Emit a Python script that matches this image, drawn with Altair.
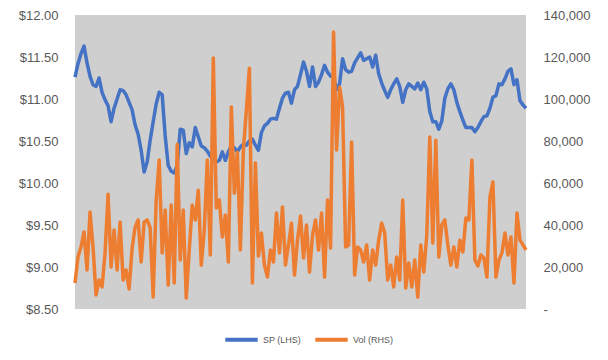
import altair as alt
import pandas as pd

sp_values = [
    11.26, 11.42, 11.54, 11.63, 11.43, 11.27, 11.17, 11.15, 11.25, 11.08,
    10.99, 10.92, 10.73, 10.89, 11.00, 11.11, 11.10, 11.05, 10.96, 10.87,
    10.69, 10.58, 10.39, 10.13, 10.25, 10.51, 10.73, 10.94, 11.08, 11.05,
    10.56, 10.21, 10.14, 10.12, 10.21, 10.64, 10.63, 10.35, 10.48, 10.43,
    10.66, 10.55, 10.44, 10.42, 10.38, 10.32, 10.29, 10.25, 10.27, 10.37,
    10.27, 10.37, 10.44, 10.42, 10.37, 10.43, 10.46, 10.45, 10.50, 10.52,
    10.45, 10.39, 10.60, 10.68, 10.71, 10.76, 10.77, 10.76, 10.89, 11.01,
    11.07, 11.08, 10.95, 11.11, 11.15, 11.29, 11.44, 11.33, 11.15, 11.38,
    11.15, 11.20, 11.29, 11.40, 11.32, 11.27, 11.27, 11.11, 11.18, 11.48,
    11.35, 11.32, 11.33, 11.43, 11.49, 11.55, 11.46, 11.48, 11.50, 11.38,
    11.52, 11.30, 11.19, 11.10, 11.02, 11.11, 11.18, 11.24, 11.15, 10.96,
    11.11, 11.18, 11.15, 11.12, 11.19, 11.11, 11.20, 11.12, 10.85, 10.73,
    10.73, 10.64, 10.74, 11.01, 11.12, 11.18, 11.11, 10.96, 10.85, 10.75,
    10.66, 10.66, 10.66, 10.61, 10.66, 10.73, 10.79, 10.80, 10.89, 11.02,
    11.04, 11.18, 11.17, 11.24, 11.33, 11.36, 11.17, 11.23, 10.98, 10.93,
    10.89,
]

vol_values = [
    12400, 24800, 29500, 36700, 18600, 46200, 29500, 6700, 13800, 10500,
    26700, 54700, 20000, 37600, 18600, 41400, 13800, 18600, 9500, 29000,
    39000, 42400, 22400, 41400, 42400, 38600, 5700, 51900, 70900, 26700,
    47100, 11400, 49500, 12400, 78500, 23300, 47100, 5200, 28100, 49500,
    42400, 56600, 20900, 37600, 70900, 25700, 119500, 48100, 51900, 34300,
    44700, 22400, 96200, 55200, 74700, 28100, 75700, 94700, 114700, 12400,
    69500, 25200, 36200, 20900, 15200, 28100, 22400, 45700, 26700, 48600,
    20900, 30500, 40900, 16200, 32800, 44300, 24300, 40000, 17600, 35200,
    42400, 28100, 45700, 15200, 51900, 29000, 131900, 75700, 105700, 96200,
    29500, 30500, 79500, 16200, 29500, 28100, 22400, 30500, 13800, 28100,
    20900, 32800, 40900, 36200, 13800, 20900, 10500, 24800, 13800, 51900,
    10000, 21900, 10500, 23300, 5700, 30500, 17600, 35200, 81900, 31400,
    80400, 24800, 40000, 42400, 30500, 20900, 29500, 20000, 32800, 27100,
    43300, 42400, 70900, 23300, 20500, 25700, 24300, 15200, 53300, 60500,
    15200, 23300, 26700, 36200, 25700, 34300, 12400, 45700, 32800, 30500,
    28100,
]

series_names = ["SP (LHS)", "Vol (RHS)"]
series_colors = ["#4472C4", "#ED7D31"]
left_ticks = [8.5, 9.0, 9.5, 10.0, 10.5, 11.0, 11.5, 12.0]
right_ticks = [0, 20000, 40000, 60000, 80000, 100000, 120000, 140000]

n = len(sp_values)
df = pd.DataFrame({
    "day": list(range(n)) * 2,
    "series": [series_names[0]] * n + [series_names[1]] * n,
    "value": sp_values + vol_values,
})

FONT = "Liberation Sans"
LABEL_COLOR = "#595959"

x_enc = alt.X("day:Q", axis=None,
              scale=alt.Scale(domain=[0, n - 1], nice=False, zero=False))
color_enc = alt.Color(
    "series:N",
    scale=alt.Scale(domain=series_names, range=series_colors),
    legend=alt.Legend(
        title=None, orient="none", legendX=148, legendY=306,
        direction="horizontal", symbolType="stroke", symbolSize=1050,
        symbolStrokeWidth=4, labelFontSize=9, labelColor=LABEL_COLOR,
        labelFont=FONT, columnPadding=5, labelOffset=3,
    ),
)

sp_line = alt.Chart(df).transform_filter(
    alt.datum.series == series_names[0]
).mark_line(strokeWidth=3.5, strokeJoin="round").encode(
    x=x_enc,
    y=alt.Y("value:Q", title=None,
            scale=alt.Scale(domain=[8.5, 12.0], nice=False, zero=False),
            axis=alt.Axis(orient="left", values=left_ticks, format="$.2f",
                          grid=False, domain=False, ticks=False,
                          labelPadding=17, labelFontSize=13,
                          labelColor=LABEL_COLOR, labelFont=FONT)),
    color=color_enc,
)

vol_line = alt.Chart(df).transform_filter(
    alt.datum.series == series_names[1]
).mark_line(strokeWidth=3.5, strokeJoin="round").encode(
    x=x_enc,
    y=alt.Y("value:Q", title=None,
            scale=alt.Scale(domain=[0, 140000], nice=False),
            axis=alt.Axis(orient="right", values=right_ticks,
                          labelExpr="datum.value == 0 ? '-' : format(datum.value, ',')",
                          grid=False, domain=False, ticks=False,
                          labelPadding=17, labelFontSize=13,
                          labelColor=LABEL_COLOR, labelFont=FONT)),
    color=color_enc,
)

chart = alt.layer(sp_line, vol_line).resolve_scale(
    y="independent"
).properties(
    width=451, height=294,
    autosize=alt.AutoSizeParams(type="none"),
    padding={"left": 67, "top": 7, "right": 74, "bottom": 50},
    background="white",
).configure_view(
    fill="#D0CFCF", stroke=None
)

chart.save("out.html", embed_options={"renderer": "svg", "actions": False})
